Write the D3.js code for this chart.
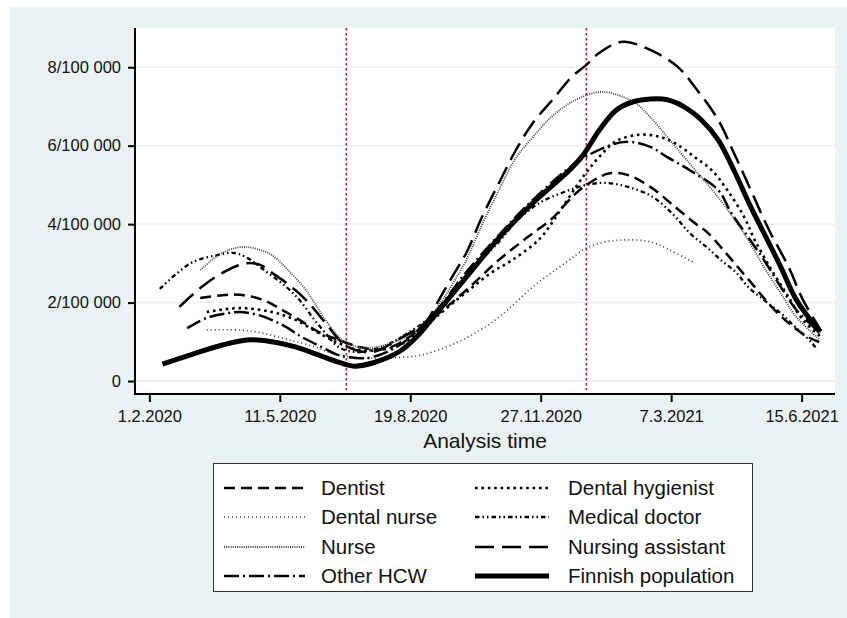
<!DOCTYPE html>
<html>
<head>
<meta charset="utf-8">
<script src="https://cdn.jsdelivr.net/npm/d3@7"></script>
<style>
  body { margin: 0; background: #fff; }
  svg { display: block; font-family: "Liberation Sans", Arial, sans-serif; }
  .axis path, .axis line { stroke: #000; }
  .axis path { stroke-width: 2; }
  .axis line { stroke-width: 2; }
  .axis text { font-size: 16.5px; fill: #111; }
  .grid line { stroke: #eaf2f3; stroke-width: 1.5; }
  .series { fill: none; stroke-linecap: butt; }
</style>
</head>
<body>
<svg id="chart" width="847" height="618"></svg>
<script>
// values: [date, rate per 100 000]
const dentist = [
  ["2020-03-11", 2.12], ["2020-03-28", 2.19], ["2020-04-10", 2.2], ["2020-04-28", 2.07],
  ["2020-05-13", 1.81], ["2020-05-26", 1.56], ["2020-06-10", 1.25], ["2020-06-25", 1.05],
  ["2020-07-11", 0.87], ["2020-07-26", 0.8], ["2020-08-11", 0.97], ["2020-09-10", 1.73],
  ["2020-10-01", 2.32], ["2020-10-26", 3.09], ["2020-11-17", 3.67], ["2020-12-06", 4.15],
  ["2020-12-17", 4.55], ["2020-12-28", 4.9], ["2021-01-11", 5.2], ["2021-01-19", 5.3],
  ["2021-02-01", 5.26], ["2021-02-19", 4.95], ["2021-03-10", 4.44], ["2021-03-25", 4.03],
  ["2021-04-04", 3.78], ["2021-04-16", 3.34], ["2021-04-27", 2.91], ["2021-05-10", 2.4],
  ["2021-05-23", 1.89], ["2021-06-05", 1.48], ["2021-06-20", 1.12], ["2021-06-29", 0.99]
];
const dentalHygienist = [
  ["2020-03-16", 1.76], ["2020-04-10", 1.86], ["2020-05-05", 1.76], ["2020-05-23", 1.56],
  ["2020-06-10", 1.22], ["2020-06-25", 0.97], ["2020-07-11", 0.79], ["2020-07-26", 0.79],
  ["2020-08-11", 0.92], ["2020-08-24", 1.22], ["2020-09-17", 1.89], ["2020-10-03", 2.32],
  ["2020-10-20", 2.76], ["2020-11-04", 3.06], ["2020-11-26", 3.62], ["2020-12-11", 4.3],
  ["2020-12-24", 4.95], ["2021-01-01", 5.32], ["2021-01-11", 5.72], ["2021-01-24", 6.12],
  ["2021-02-11", 6.28], ["2021-02-27", 6.22], ["2021-03-12", 6.02], ["2021-03-25", 5.71],
  ["2021-04-07", 5.38], ["2021-04-19", 4.87], ["2021-05-02", 4.18], ["2021-05-10", 3.6],
  ["2021-05-23", 2.83], ["2021-06-05", 2.14], ["2021-06-16", 1.56], ["2021-06-30", 1.12]
];
const dentalNurse = [
  ["2020-03-16", 1.3], ["2020-04-10", 1.3], ["2020-04-28", 1.22], ["2020-05-18", 1.05],
  ["2020-06-07", 0.87], ["2020-06-20", 0.71], ["2020-07-05", 0.61], ["2020-07-21", 0.58],
  ["2020-08-05", 0.59], ["2020-08-24", 0.64], ["2020-09-05", 0.74], ["2020-10-01", 1.1],
  ["2020-10-26", 1.63], ["2020-11-21", 2.4], ["2020-12-17", 3.04], ["2021-01-01", 3.39],
  ["2021-01-16", 3.55], ["2021-02-01", 3.6], ["2021-02-19", 3.55], ["2021-03-06", 3.34],
  ["2021-03-25", 3.01]
];
const medicalDoctor = [
  ["2020-02-09", 2.35], ["2020-03-04", 3.01], ["2020-03-24", 3.21], ["2020-04-05", 3.27],
  ["2020-04-15", 3.16], ["2020-05-01", 2.78], ["2020-05-16", 2.4], ["2020-05-26", 2.07],
  ["2020-06-05", 1.63], ["2020-06-15", 1.22], ["2020-06-25", 0.87], ["2020-07-08", 0.74],
  ["2020-07-28", 0.87], ["2020-08-11", 1.1], ["2020-09-05", 1.68], ["2020-10-01", 2.7],
  ["2020-10-26", 3.55], ["2020-11-08", 4.06], ["2020-11-26", 4.54], ["2020-12-15", 4.82],
  ["2021-01-01", 5.0], ["2021-01-16", 5.05], ["2021-02-02", 4.95], ["2021-02-21", 4.69],
  ["2021-03-09", 4.23], ["2021-03-21", 3.78], ["2021-04-03", 3.42], ["2021-04-14", 3.09],
  ["2021-04-26", 2.76], ["2021-05-05", 2.4], ["2021-05-17", 2.07], ["2021-05-30", 1.73],
  ["2021-06-10", 1.38], ["2021-06-23", 0.97], ["2021-06-26", 0.84]
];
const nurse = [
  ["2020-03-11", 2.83], ["2020-03-28", 3.27], ["2020-04-13", 3.42], ["2020-04-26", 3.34],
  ["2020-05-05", 3.21], ["2020-05-15", 2.91], ["2020-05-31", 2.32], ["2020-06-15", 1.56],
  ["2020-06-28", 1.05], ["2020-07-16", 0.84], ["2020-08-11", 1.05], ["2020-08-30", 1.43],
  ["2020-09-10", 1.94], ["2020-09-20", 2.45], ["2020-10-01", 3.09], ["2020-10-13", 3.98],
  ["2020-10-26", 4.87], ["2020-11-08", 5.69], ["2020-11-21", 6.22], ["2020-12-06", 6.76],
  ["2020-12-24", 7.17], ["2021-01-13", 7.37], ["2021-02-06", 7.12], ["2021-02-19", 6.73],
  ["2021-03-04", 6.22], ["2021-03-17", 5.71], ["2021-03-30", 5.2], ["2021-04-12", 4.69],
  ["2021-04-24", 4.15], ["2021-05-05", 3.6], ["2021-05-17", 2.91], ["2021-05-30", 2.24],
  ["2021-06-11", 1.63], ["2021-06-29", 1.05]
];
const nursingAssistant = [
  ["2020-02-24", 1.89], ["2020-03-11", 2.37], ["2020-03-28", 2.76], ["2020-04-15", 3.0],
  ["2020-04-26", 2.96], ["2020-05-05", 2.76], ["2020-05-18", 2.45], ["2020-05-31", 2.07],
  ["2020-06-15", 1.48], ["2020-06-28", 0.97], ["2020-07-08", 0.79], ["2020-07-21", 0.74],
  ["2020-08-13", 1.12], ["2020-08-30", 1.48], ["2020-09-10", 2.07], ["2020-09-20", 2.65],
  ["2020-10-01", 3.27], ["2020-10-13", 4.18], ["2020-10-26", 5.05], ["2020-11-08", 5.89],
  ["2020-11-21", 6.58], ["2020-12-06", 7.17], ["2020-12-21", 7.76], ["2021-01-01", 8.06],
  ["2021-01-11", 8.37], ["2021-01-29", 8.65], ["2021-02-19", 8.44], ["2021-03-12", 8.01],
  ["2021-03-25", 7.5], ["2021-04-12", 6.66], ["2021-04-24", 5.82], ["2021-05-07", 4.87],
  ["2021-05-21", 3.85], ["2021-06-05", 2.91], ["2021-06-16", 2.07], ["2021-06-30", 1.28]
];
const otherHCW = [
  ["2020-03-01", 1.35], ["2020-03-16", 1.61], ["2020-04-01", 1.73], ["2020-04-10", 1.76],
  ["2020-04-25", 1.68], ["2020-05-13", 1.43], ["2020-05-28", 1.12], ["2020-06-12", 0.87],
  ["2020-06-25", 0.66], ["2020-07-08", 0.59], ["2020-07-21", 0.61], ["2020-08-11", 0.92],
  ["2020-09-05", 1.68], ["2020-10-01", 2.78], ["2020-10-26", 3.72], ["2020-11-21", 4.62],
  ["2020-12-24", 5.56], ["2021-01-16", 5.97], ["2021-02-01", 6.1], ["2021-02-19", 5.97],
  ["2021-03-04", 5.71], ["2021-03-21", 5.38], ["2021-04-12", 4.87], ["2021-04-22", 4.29],
  ["2021-05-05", 3.67], ["2021-05-17", 3.09], ["2021-05-30", 2.4], ["2021-06-11", 1.81],
  ["2021-06-24", 1.38], ["2021-06-29", 1.22]
];
const finnishPopulation = [
  ["2020-02-11", 0.43], ["2020-03-03", 0.66], ["2020-03-28", 0.92], ["2020-04-18", 1.05],
  ["2020-05-05", 1.0], ["2020-05-23", 0.87], ["2020-06-10", 0.66], ["2020-06-25", 0.48],
  ["2020-07-07", 0.38], ["2020-07-21", 0.46], ["2020-08-11", 0.76], ["2020-08-26", 1.2],
  ["2020-09-05", 1.6], ["2020-10-01", 2.65], ["2020-10-26", 3.65], ["2020-11-21", 4.54],
  ["2020-12-17", 5.31], ["2020-12-29", 5.74], ["2021-01-11", 6.4], ["2021-01-24", 6.91],
  ["2021-02-06", 7.12], ["2021-02-19", 7.19], ["2021-03-04", 7.17], ["2021-03-17", 6.99],
  ["2021-03-30", 6.66], ["2021-04-12", 6.15], ["2021-04-24", 5.38], ["2021-05-07", 4.44],
  ["2021-05-17", 3.78], ["2021-05-30", 2.91], ["2021-06-11", 2.07], ["2021-06-29", 1.25]
];

const xTickDates = ["2020-02-01", "2020-05-11", "2020-08-19", "2020-11-27", "2021-03-07", "2021-06-15"];
const xTickLabels = ["1.2.2020", "11.5.2020", "19.8.2020", "27.11.2020", "7.3.2021", "15.6.2021"];
const yTickValues = [0, 2, 4, 6, 8];
const yTickLabels = ["0", "2/100 000", "4/100 000", "6/100 000", "8/100 000"];
const referenceDates = ["2020-07-01", "2021-01-01"];

// legend order + line styles
const seriesList = [
  { name: "Dentist", data: dentist, color: "#000", width: 2.5, dash: "11,6" },
  { name: "Dental hygienist", data: dentalHygienist, color: "#000", width: 2.6, dash: "2.6,3.8" },
  { name: "Dental nurse", data: dentalNurse, color: "#333", width: 1.6, dash: "1,3" },
  { name: "Medical doctor", data: medicalDoctor, color: "#000", width: 2.3, dash: "4.5,3,1.5,3,1.5,3" },
  { name: "Nurse", data: nurse, color: "#444", width: 1.8, dash: "1,1.2" },
  { name: "Nursing assistant", data: nursingAssistant, color: "#000", width: 2.5, dash: "19,8" },
  { name: "Other HCW", data: otherHCW, color: "#000", width: 2.5, dash: "15,4,2,4" },
  { name: "Finnish population", data: finnishPopulation, color: "#000", width: 5, dash: null }
];

const parse = d3.utcParse("%Y-%m-%d");
const svg = d3.select("#chart");

// outer background
svg.append("rect").attr("x", 10).attr("y", 7).attr("width", 837).attr("height", 611).attr("fill", "#eaf2f3");

const plot = { left: 135, right: 835, top: 28, bottom: 394 };
svg.append("rect")
  .attr("x", plot.left).attr("y", plot.top)
  .attr("width", plot.right - plot.left).attr("height", plot.bottom - plot.top)
  .attr("fill", "#fff");

const x = d3.scaleUtc()
  .domain([new Date(Date.UTC(2020, 0, 21)), new Date(Date.UTC(2021, 6, 10, 14))])
  .range([plot.left, plot.right]);
const y = d3.scaleLinear().domain([-0.33, 9.0]).range([plot.bottom, plot.top]);

// grid
svg.append("g").attr("class", "grid")
  .selectAll("line").data(yTickValues).join("line")
  .attr("x1", plot.left).attr("x2", plot.right)
  .attr("y1", d => y(d)).attr("y2", d => y(d));

// reference lines
svg.append("g").selectAll("line").data(referenceDates).join("line")
  .attr("x1", d => x(parse(d))).attr("x2", d => x(parse(d)))
  .attr("y1", plot.top).attr("y2", 390)
  .attr("stroke", "#c4104a").attr("stroke-width", 1.6).attr("stroke-dasharray", "2.5,2.5");

const line = d3.line()
  .x(d => x(parse(d[0])))
  .y(d => y(d[1]))
  .curve(d3.curveCatmullRom.alpha(0.5));

svg.append("g").selectAll("path").data(seriesList).join("path")
  .attr("class", "series")
  .attr("d", d => line(d.data))
  .attr("stroke", d => d.color)
  .attr("stroke-width", d => d.width)
  .attr("stroke-dasharray", d => d.dash);

// axes
const yAxis = d3.axisLeft(y)
  .tickValues(yTickValues)
  .tickFormat((d, i) => yTickLabels[i])
  .tickSize(7).tickPadding(7).tickSizeOuter(0);
svg.append("g").attr("class", "axis")
  .attr("transform", `translate(${plot.left},0)`)
  .call(yAxis)
  .call(g => g.select(".domain").attr("d", `M0,${plot.top}V${plot.bottom + 1}`));

const xAxis = d3.axisBottom(x)
  .tickValues(xTickDates.map(parse))
  .tickFormat((d, i) => xTickLabels[i])
  .tickSize(8).tickPadding(8).tickSizeOuter(0);
svg.append("g").attr("class", "axis")
  .attr("transform", `translate(0,${plot.bottom})`)
  .call(xAxis)
  .call(g => g.select(".domain").attr("d", `M${plot.left - 1},0H${plot.right}`));

svg.append("text")
  .attr("x", (plot.left + plot.right) / 2).attr("y", 448)
  .attr("text-anchor", "middle")
  .attr("font-size", 21).attr("fill", "#111")
  .text("Analysis time");

// legend
svg.append("rect")
  .attr("x", 213.5).attr("y", 463.5).attr("width", 539).attr("height", 128)
  .attr("fill", "#fff").attr("stroke", "#333").attr("stroke-width", 1);

const legRows = [488, 517, 547, 576];
const legCols = [{ x1: 224, x2: 305, tx: 321 }, { x1: 475, x2: 549, tx: 568 }];
const leg = svg.append("g").selectAll("g").data(seriesList).join("g")
  .attr("transform", (d, i) => `translate(0,${legRows[Math.floor(i / 2)]})`);
leg.append("line")
  .attr("x1", (d, i) => legCols[i % 2].x1).attr("x2", (d, i) => legCols[i % 2].x2)
  .attr("stroke", d => d.color)
  .attr("stroke-width", d => d.width)
  .attr("stroke-dasharray", d => d.dash);
leg.append("text")
  .attr("x", (d, i) => legCols[i % 2].tx)
  .attr("dy", "0.36em")
  .attr("font-size", 20.5).attr("fill", "#111")
  .text(d => d.name);
</script>
</body>
</html>
